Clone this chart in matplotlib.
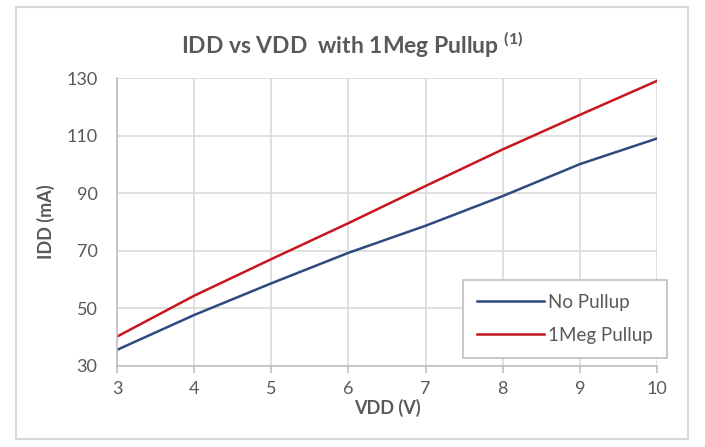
import matplotlib.pyplot as plt
from matplotlib.patches import Rectangle

plt.rcParams['font.family'] = ['Lato', 'DejaVu Sans']

vdd = [3, 4, 5, 6, 7, 8, 9, 10]
idd_no_pullup = [35.6, 47.7, 58.7, 69.3, 78.7, 89.0, 100.1, 109.0]
idd_1meg = [40.2, 54.4, 67.1, 79.6, 92.5, 105.2, 117.2, 129.0]
yticks = [30, 50, 70, 90, 110, 130]

W, H = 705, 447
fig = plt.figure(figsize=(W / 100, H / 100), dpi=100)
ax = fig.add_axes([117 / W, 1 - 366 / H, (657 - 117) / W, (366 - 78) / H])

# outer chart border
fig.patches.append(Rectangle((16 / W, 1 - 439 / H), (688 - 16) / W, (439 - 7) / H,
                             transform=fig.transFigure, fill=False,
                             edgecolor='#d9d9d9', linewidth=1.5))

ax.plot(vdd, idd_no_pullup, color='#2f4a7f', linewidth=1.8, label='No Pullup')
ax.plot(vdd, idd_1meg, color='#c8161d', linewidth=1.8, label='1Meg Pullup')

ax.set_xlim(3, 10)
ax.set_ylim(30, 130)
ax.set_xticks(vdd)
ax.set_yticks(yticks)
ax.grid(color='#d9d9d9', linewidth=1.2)
ax.set_axisbelow(True)
for s in ['top', 'right']:
    ax.spines[s].set_visible(False)
for s in ['left', 'bottom']:
    ax.spines[s].set_color('#bfbfbf')
    ax.spines[s].set_linewidth(1.2)
ax.tick_params(axis='x', colors='#bfbfbf', labelcolor='#595959', labelsize=13,
               length=5, width=1.2, pad=6)
ax.tick_params(axis='y', colors='#bfbfbf', labelcolor='#595959', labelsize=13,
               length=0, pad=14)

ax.set_xlabel('VDD (V)', color='#595959', fontsize=13, fontweight='bold', labelpad=1)
ax.set_ylabel('IDD (mA)', color='#595959', fontsize=13, fontweight='bold', labelpad=8)

fig.text(0.5, 1 - 45 / H, r'IDD vs VDD  with 1Meg Pullup $^{\mathregular{(1)}}$',
         ha='center', va='center', fontsize=16.5, fontweight='bold', color='#595959')

leg = ax.legend(loc='lower right', bbox_to_anchor=(667 / W, 1 - 358 / H),
                bbox_transform=fig.transFigure, fontsize=13.5, frameon=True,
                fancybox=False, edgecolor='#bfbfbf', framealpha=1,
                handlelength=3.6, handletextpad=0.2, labelspacing=0.85,
                borderpad=0.75, borderaxespad=0)
leg.get_frame().set_linewidth(1.2)
for t in leg.get_texts():
    t.set_color('#595959')

fig.savefig('out.png', dpi=100)
